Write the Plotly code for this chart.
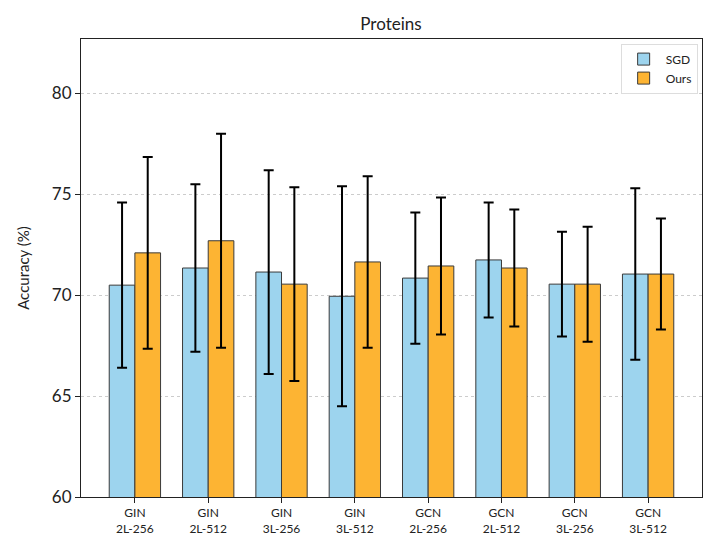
import plotly.graph_objects as go

categories = ["GIN<br>2L-256", "GIN<br>2L-512", "GIN<br>3L-256", "GIN<br>3L-512",
              "GCN<br>2L-256", "GCN<br>2L-512", "GCN<br>3L-256", "GCN<br>3L-512"]
sgd_mean = [70.5, 71.35, 71.15, 69.95, 70.85, 71.75, 70.55, 71.05]
sgd_std = [4.1, 4.15, 5.05, 5.45, 3.25, 2.85, 2.6, 4.25]
ours_mean = [72.1, 72.7, 70.55, 71.65, 71.45, 71.35, 70.55, 71.05]
ours_std = [4.75, 5.3, 4.8, 4.25, 3.4, 2.9, 2.85, 2.75]

x = list(range(len(categories)))
font_family = "Lato, 'Open Sans', sans-serif"

fig = go.Figure()
fig.add_trace(go.Bar(
    x=x, y=sgd_mean, name="SGD",
    marker=dict(color="#9DD4EE", line=dict(color="#3a3a3a", width=1)),
    error_y=dict(type="data", array=sgd_std, color="black", thickness=2, width=5),
))
fig.add_trace(go.Bar(
    x=x, y=ours_mean, name="Ours",
    marker=dict(color="#FDB433", line=dict(color="#3a3a3a", width=1)),
    error_y=dict(type="data", array=ours_std, color="black", thickness=2, width=5),
))

fig.update_layout(
    width=705, height=539,
    margin=dict(l=81, r=3, t=39, b=42, autoexpand=False),
    paper_bgcolor="white", plot_bgcolor="white",
    barmode="group", bargap=0.3, bargroupgap=0,
    font=dict(family=font_family, color="#222222"),
    title=dict(text="Proteins", x=0.5546, xanchor="center", y=0.955, yanchor="middle",
               font=dict(size=17, color="#222222")),
    legend=dict(x=0.993, y=0.99, xanchor="right", yanchor="top",
                bgcolor="white", bordercolor="#dddddd", borderwidth=1,
                font=dict(size=12), itemwidth=34, tracegroupgap=0),
    showlegend=True,
)
fig.update_xaxes(
    range=[-0.735, 7.735], tickmode="array", tickvals=x, ticktext=categories,
    ticks="outside", ticklen=5, tickcolor="#222222", tickfont=dict(size=12),
    showline=True, linecolor="#222222", linewidth=1, mirror=True, showgrid=False,
    automargin=False,
)
fig.update_yaxes(
    range=[60, 82.7], tickvals=[60, 65, 70, 75, 80],
    ticks="outside", ticklen=5, tickcolor="#222222", tickfont=dict(size=17),
    showline=True, linecolor="#222222", linewidth=1, mirror=True,
    showgrid=True, gridcolor="#cccccc", griddash="dot", gridwidth=1,
    title=dict(text="Accuracy (%)", font=dict(size=15), standoff=18),
    zeroline=False, automargin=False,
)

fig.write_html(
    "out.html",
    config={"displayModeBar": False},
    post_script="document.body.style.margin='0';document.body.style.overflow='hidden';",
)
